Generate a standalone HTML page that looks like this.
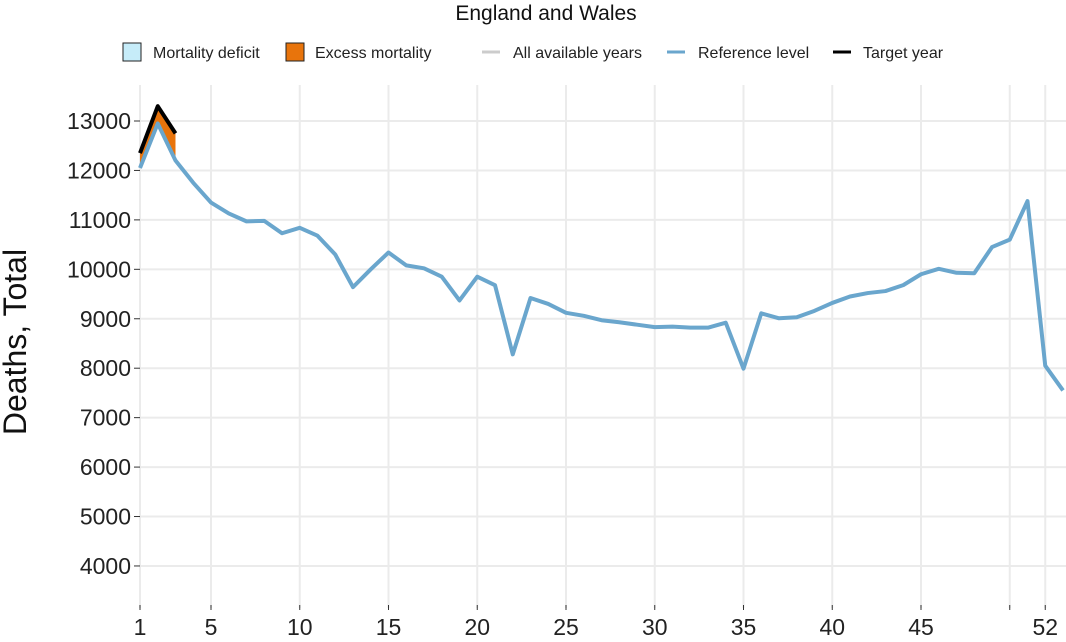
<!DOCTYPE html>
<html><head><meta charset="utf-8"><style>
body{margin:0;background:#fff;font-family:"Liberation Sans",sans-serif}
svg text{font-family:"Liberation Sans",sans-serif}
</style></head><body>
<svg width="1066" height="637">
<text x="546" y="20" font-size="21" text-anchor="middle" fill="#111">England and Wales</text>
<g font-size="16" fill="#222">
<rect x="123" y="43" width="18" height="18" fill="#c6ecf9" stroke="#222"/>
<text x="153" y="58">Mortality deficit</text>
<rect x="286" y="43" width="18" height="18" fill="#e8740c" stroke="#222"/>
<text x="315" y="58">Excess mortality</text>
<line x1="482" y1="52" x2="500" y2="52" stroke="#ccc" stroke-width="3"/>
<text x="513" y="58">All available years</text>
<line x1="667" y1="52" x2="685" y2="52" stroke="#6aa6cd" stroke-width="3"/>
<text x="698" y="58">Reference level</text>
<line x1="833" y1="52" x2="851" y2="52" stroke="#000" stroke-width="3"/>
<text x="863" y="58">Target year</text>
</g>
<text transform="translate(26,342) rotate(-90)" font-size="32" text-anchor="middle" fill="#111">Deaths, Total</text>
<g id="grid"></g><g id="axes"></g><g id="marks"></g>
</svg>
<script>
const weeks=[1,2,3,4,5,6,7,8,9,10,11,12,13,14,15,16,17,18,19,20,21,22,23,24,25,26,27,28,29,30,31,32,33,34,35,36,37,38,39,40,41,42,43,44,45,46,47,48,49,50,51,52,53];
const reference=[12050,12950,12200,11750,11350,11130,10970,10980,10730,10840,10680,10300,9640,10000,10340,10080,10020,9850,9370,9850,9680,8280,9420,9300,9120,9060,8970,8930,8880,8830,8840,8820,8820,8920,7990,9110,9010,9030,9160,9320,9450,9520,9560,9680,9900,10010,9930,9920,10450,10600,11380,8050,7550];
const targetWeeks=[1,2,3];
const target=[12350,13300,12750];
const yTicks=[4000,5000,6000,7000,8000,9000,10000,11000,12000,13000];
const xTicks=[1,5,10,15,20,25,30,35,40,45,50,52];
const xLabels=["1","5","10","15","20","25","30","35","40","45","","52"];
const NS="http://www.w3.org/2000/svg";
const X=w=>140+(w-1)*17.75;
const Y=v=>121+(13000-v)*0.04944;
function el(t,a,p){const e=document.createElementNS(NS,t);for(const k in a)e.setAttribute(k,a[k]);document.getElementById(p).appendChild(e);return e;}
yTicks.forEach(v=>{
 const g=el('line',{x1:140,x2:1066,y1:Y(v),y2:Y(v),stroke:'#ebebeb','stroke-width':2},'grid');
 
 
 const tk=el('line',{x1:134,x2:140,y1:Y(v),y2:Y(v),stroke:'#333'},'axes');
 
 
 const t=el('text',{x:131,y:Y(v)+8,'font-size':23,'text-anchor':'end',fill:'#222'},'axes');
 t.textContent=v;
 
 
});
xTicks.forEach((w,i)=>{
 const g=el('line',{x1:X(w),x2:X(w),y1:85,y2:608,stroke:'#ebebeb','stroke-width':2},'grid');
 
 
 const tk=el('line',{x1:X(w),x2:X(w),y1:605,y2:610,stroke:'#333'},'axes');
 
 
 const t=el('text',{x:X(w),y:635,'font-size':23,'text-anchor':'middle',fill:'#222'},'axes');
 t.textContent=xLabels[i];
 
 
});
let pts=targetWeeks.map((w,i)=>X(w)+','+Y(target[i]));
for(let i=targetWeeks.length-1;i>=0;i--){pts.push(X(targetWeeks[i])+','+Y(reference[weeks.indexOf(targetWeeks[i])]));}
const area=el('polygon',{points:pts.join(' '),fill:'#e8740c'},'marks');


const ref=el('polyline',{points:weeks.map((w,i)=>X(w)+','+Y(reference[i])).join(' '),fill:'none',stroke:'#6aa6cd','stroke-width':4,'stroke-linejoin':'round'},'marks');


const tg=el('polyline',{points:targetWeeks.map((w,i)=>X(w)+','+Y(target[i])).join(' '),fill:'none',stroke:'#000','stroke-width':4,'stroke-linejoin':'round'},'marks');


</script>
</body></html>
